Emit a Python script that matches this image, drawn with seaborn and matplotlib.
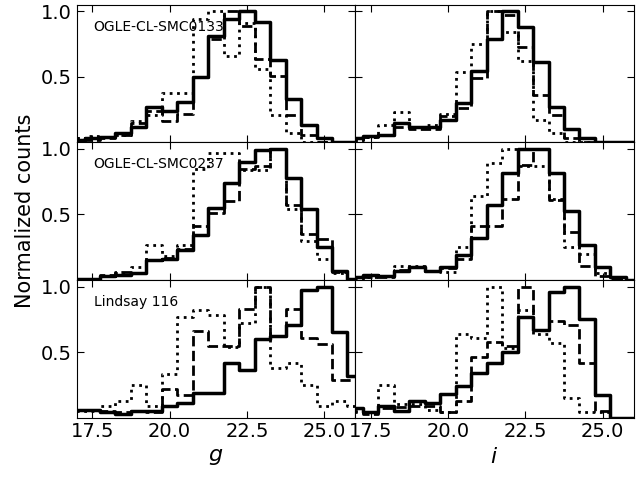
import numpy as np
import pandas as pd
import seaborn as sns
import matplotlib
matplotlib.use('Agg')
import matplotlib.pyplot as plt

# bin centres (mag), bins are 0.5 mag wide
mags = [17.0, 17.5, 18.0, 18.5, 19.0, 19.5, 20.0, 20.5, 21.0, 21.5,
        22.0, 22.5, 23.0, 23.5, 24.0, 24.5, 25.0, 25.5, 26.0]
edges = [m - 0.25 for m in mags] + [mags[-1] + 0.25]

clusters = ['OGLE-CL-SMC0133', 'OGLE-CL-SMC0237', 'Lindsay 116']
bands = ['g', 'i']

# OGLE-CL-SMC0133
smc0133_g_solid  = [0.02, 0.03, 0.04, 0.07, 0.12, 0.27, 0.24, 0.31, 0.50, 0.81, 0.94, 1.00, 0.92, 0.63, 0.33, 0.13, 0.03, 0.0, 0.0]
smc0133_g_dashed = [0.03, 0.02, 0.03, 0.06, 0.15, 0.24, 0.16, 0.22, 0.50, 0.79, 1.00, 0.89, 0.64, 0.51, 0.21, 0.06, 0.0, 0.0, 0.0]
smc0133_g_dotted = [0.03, 0.05, 0.04, 0.06, 0.16, 0.21, 0.38, 0.38, 0.94, 1.00, 0.66, 0.91, 0.56, 0.21, 0.07, 0.0, 0.0, 0.0, 0.0]
smc0133_i_solid  = [0.03, 0.05, 0.06, 0.15, 0.12, 0.12, 0.17, 0.30, 0.545, 0.79, 1.00, 0.88, 0.61, 0.27, 0.10, 0.03, 0.0, 0.0, 0.0]
smc0133_i_dashed = [0.02, 0.04, 0.06, 0.12, 0.10, 0.10, 0.20, 0.26, 0.495, 1.00, 0.97, 0.73, 0.36, 0.21, 0.03, 0.0, 0.0, 0.0, 0.0]
smc0133_i_dotted = [0.02, 0.04, 0.13, 0.23, 0.12, 0.13, 0.22, 0.54, 0.75, 1.00, 0.84, 0.62, 0.17, 0.07, 0.0, 0.0, 0.0, 0.0, 0.0]

# OGLE-CL-SMC0237
smc0237_g_solid  = [0.01, 0.01, 0.03, 0.04, 0.05, 0.15, 0.16, 0.23, 0.34, 0.55, 0.74, 0.90, 0.99, 1.00, 0.78, 0.54, 0.25, 0.07, 0.01]
smc0237_g_dashed = [0.01, 0.01, 0.04, 0.06, 0.05, 0.15, 0.17, 0.24, 0.41, 0.51, 0.60, 0.85, 0.87, 1.00, 0.57, 0.35, 0.31, 0.06, 0.0]
smc0237_g_dotted = [0.01, 0.01, 0.03, 0.05, 0.10, 0.27, 0.18, 0.27, 0.85, 0.97, 0.97, 0.84, 0.84, 1.00, 0.54, 0.30, 0.16, 0.05, 0.0]
smc0237_i_solid  = [0.02, 0.04, 0.03, 0.07, 0.10, 0.07, 0.10, 0.19, 0.32, 0.57, 0.82, 1.00, 1.00, 0.82, 0.53, 0.27, 0.10, 0.025, 0.0]
smc0237_i_dashed = [0.02, 0.02, 0.02, 0.08, 0.10, 0.07, 0.09, 0.16, 0.41, 0.41, 0.62, 0.88, 1.00, 0.61, 0.37, 0.11, 0.03, 0.01, 0.0]
smc0237_i_dotted = [0.01, 0.02, 0.03, 0.11, 0.11, 0.07, 0.06, 0.25, 0.64, 0.89, 1.00, 0.87, 0.87, 0.62, 0.25, 0.20, 0.05, 0.01, 0.0]

# Lindsay 116
l116_g_solid  = [0.06, 0.06, 0.04, 0.03, 0.05, 0.05, 0.09, 0.11, 0.19, 0.19, 0.42, 0.36, 0.60, 0.62, 0.71, 0.97, 1.00, 0.65, 0.32]
l116_g_dashed = [0.06, 0.06, 0.05, 0.04, 0.05, 0.04, 0.22, 0.17, 0.66, 0.55, 0.55, 0.83, 1.00, 0.62, 0.83, 0.61, 0.56, 0.29, 0.29]
l116_g_dotted = [0.05, 0.05, 0.09, 0.13, 0.25, 0.09, 0.33, 0.77, 0.82, 0.78, 0.54, 0.72, 1.00, 0.38, 0.42, 0.25, 0.09, 0.13, 0.09]
l116_i_solid  = [0.075, 0.04, 0.09, 0.05, 0.13, 0.11, 0.18, 0.24, 0.34, 0.42, 0.50, 0.77, 0.67, 0.96, 1.00, 0.75, 0.17, 0.0, 0.0]
l116_i_dashed = [0.05, 0.03, 0.07, 0.08, 0.09, 0.09, 0.04, 0.13, 0.46, 0.58, 0.55, 1.00, 0.67, 0.74, 0.71, 0.42, 0.05, 0.0, 0.0]
l116_i_dotted = [0.04, 0.04, 0.25, 0.10, 0.10, 0.06, 0.04, 0.64, 0.61, 1.00, 0.53, 0.82, 0.64, 0.57, 0.15, 0.04, 0.04, 0.0, 0.0]

panels = [
    [(smc0133_g_solid, smc0133_g_dashed, smc0133_g_dotted),
     (smc0133_i_solid, smc0133_i_dashed, smc0133_i_dotted)],
    [(smc0237_g_solid, smc0237_g_dashed, smc0237_g_dotted),
     (smc0237_i_solid, smc0237_i_dashed, smc0237_i_dotted)],
    [(l116_g_solid, l116_g_dashed, l116_g_dotted),
     (l116_i_solid, l116_i_dashed, l116_i_dotted)],
]
styles = [('-', 2.5), ('--', 2.0), (':', 2.0)]

plt.rcParams['font.family'] = ['DejaVu Sans']
plt.rcParams['mathtext.fontset'] = 'dejavusans'

fig, axes = plt.subplots(3, 2, figsize=(6.4, 4.8), dpi=100, sharex=True, sharey=True)
fig.subplots_adjust(left=0.12, right=0.99, bottom=0.13, top=0.99, wspace=0, hspace=0)

for r in range(3):
    for c in range(2):
        ax = axes[r, c]
        for vals, (ls, lw) in zip(panels[r][c], styles):
            sns.histplot(x=mags, weights=vals, bins=edges, element='step', fill=False,
                         color='black', linestyle=ls, linewidth=lw, ax=ax)
        ax.set_xlim(17.0, 26.0)
        ax.set_ylim(0.0, 1.05)
        ax.set_xticks([17.5, 20.0, 22.5, 25.0])
        ax.set_yticks([0.5, 1.0])
        ax.tick_params(direction='in', top=True, right=True, length=5, labelsize=14)
        ax.set_ylabel('')
        ax.set_xlabel('')
        if c == 0:
            ax.text(0.06, 0.84, clusters[r], transform=ax.transAxes, fontsize=10,
                    va='center', ha='left')

axes[1, 0].set_ylabel('Normalized counts', fontsize=15)
axes[2, 0].set_xlabel('$g$', fontsize=16)
axes[2, 1].set_xlabel('$i$', fontsize=16)

plt.savefig('out.png', dpi=100)
